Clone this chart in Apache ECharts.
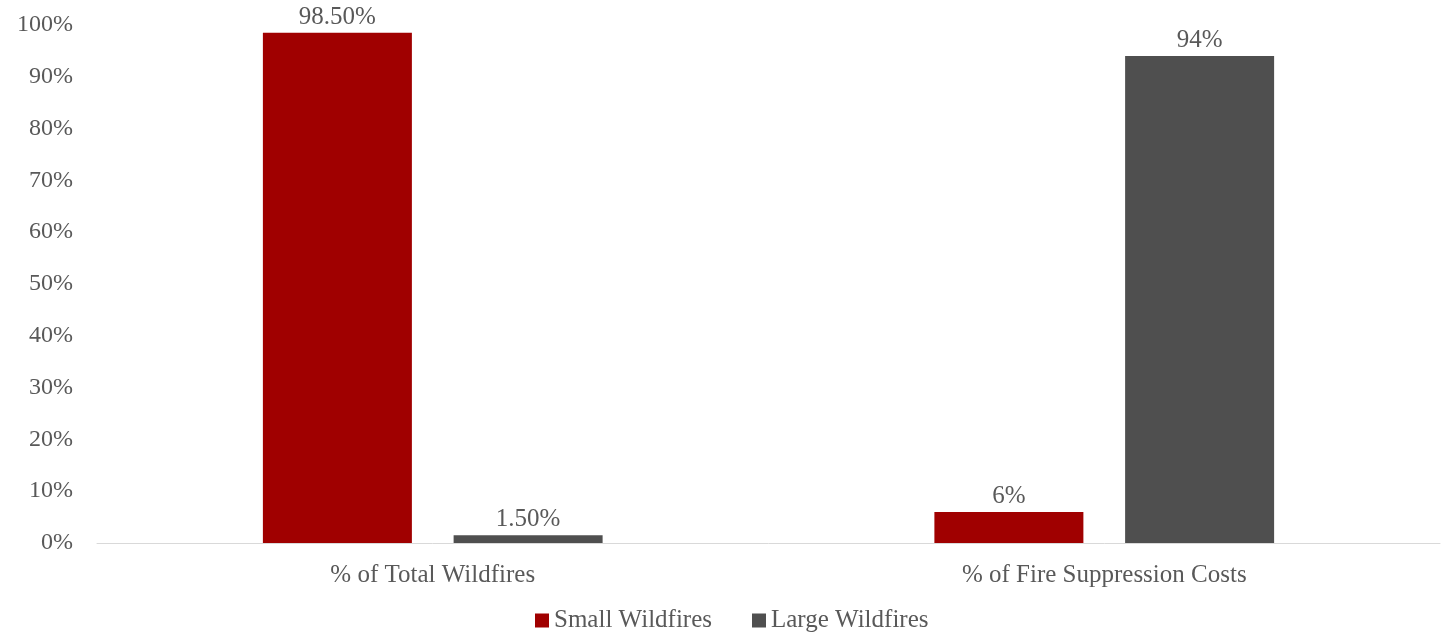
<!DOCTYPE html>
<html>
<head>
<meta charset="utf-8">
<script src="https://cdn.jsdelivr.net/npm/echarts@6/dist/echarts.min.js"></script>
<style>
html,body{margin:0;padding:0;background:#fff;}
#chart{width:1450px;height:636px;}
</style>
</head>
<body>
<div id="chart"></div>
<script>
const categories = ['% of Total Wildfires', '% of Fire Suppression Costs'];
const seriesNames = ['Small Wildfires', 'Large Wildfires'];
const smallValues = [98.5, 6];
const largeValues = [1.5, 94];
const smallLabels = ['98.50%', '6%'];
const largeLabels = ['1.50%', '94%'];

const FONT = '"Liberation Serif", "Times New Roman", serif';
const TXT = '#595959';
const chart = echarts.init(document.getElementById('chart'), null, {renderer: 'canvas'});
chart.setOption({
  backgroundColor: '#ffffff',
  animation: false,
  textStyle: {fontFamily: FONT},
  grid: {left: 97, right: 10, top: 25, bottom: 93, containLabel: false},
  legend: {
    data: seriesNames,
    top: 608,
    left: 535,
    padding: 0,
    itemWidth: 14,
    itemHeight: 14,
    itemGap: 40,
    icon: 'rect',
    textStyle: {fontFamily: FONT, fontSize: 25, color: TXT}
  },
  xAxis: {
    type: 'category',
    data: categories,
    axisLine: {lineStyle: {color: '#d9d9d9', width: 1}},
    axisTick: {show: false},
    axisLabel: {fontFamily: FONT, fontSize: 25, color: TXT, margin: 20}
  },
  yAxis: {
    type: 'value',
    min: 0,
    max: 100,
    interval: 10,
    axisLine: {show: false},
    axisTick: {show: false},
    splitLine: {show: false},
    axisLabel: {fontFamily: FONT, fontSize: 24, color: TXT, margin: 24, formatter: v => v + '%'}
  },
  series: [
    {
      name: seriesNames[0],
      type: 'bar',
      data: smallValues,
      barWidth: 149,
      barGap: '28%',
      itemStyle: {color: '#a00000'},
      label: {show: true, position: 'top', distance: 3, fontFamily: FONT, fontSize: 25, color: TXT,
        formatter: p => smallLabels[p.dataIndex]}
    },
    {
      name: seriesNames[1],
      type: 'bar',
      data: largeValues,
      barWidth: 149,
      barGap: '28%',
      itemStyle: {color: '#4f4f4f'},
      label: {show: true, position: 'top', distance: 3, fontFamily: FONT, fontSize: 25, color: TXT,
        formatter: p => largeLabels[p.dataIndex]}
    }
  ]
});
</script>
</body>
</html>
